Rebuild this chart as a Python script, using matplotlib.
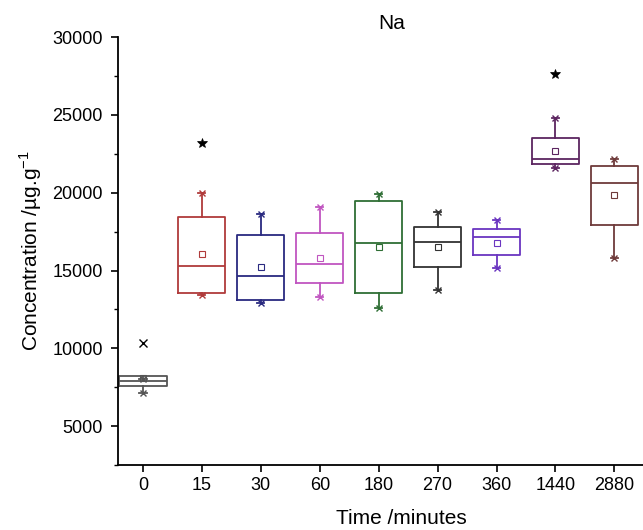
import matplotlib
matplotlib.use("Agg")
import matplotlib.pyplot as plt
from matplotlib.ticker import MultipleLocator

plt.rcParams['font.family'] = ['Liberation Sans', 'DejaVu Sans']

# time points (minutes)
times = ["0", "15", "30", "60", "180", "270", "360", "1440", "2880"]

# box statistics (ug/g)
q1 = [7570, 13530, 13100, 14170, 13530, 15200, 15970, 21840, 17920]
medians = [7890, 15280, 14660, 15390, 16740, 16830, 17130, 22160, 20640]
q3 = [8210, 18450, 17270, 17380, 19460, 17770, 17680, 23490, 21710]
whis_lo = [7150, 13400, 12900, 13270, 12560, 13740, 15140, 21560, 15780]
whis_hi = [8050, 19950, 18600, 19060, 19890, 18770, 18240, 24780, 22140]
means = [8100, 16050, 15220, 15820, 16520, 16500, 16800, 22670, 19850]
outliers = [[10320], [23190], [], [], [], [], [], [27620], []]

colors = ["#555555", "#b03a3a", "#2a2a80", "#c055c0", "#2f6e35",
          "#333333", "#6a35c0", "#5c2560", "#6e3a3a"]

stats = []
for i in range(len(times)):
    stats.append(dict(q1=q1[i], med=medians[i], q3=q3[i], whislo=whis_lo[i],
                      whishi=whis_hi[i], mean=means[i], fliers=[]))

fig = plt.figure(figsize=(6.43, 5.30), dpi=100)
# the original plot is cropped on the right, so the axes run past the edge
ax = fig.add_axes([0.1835, 0.1226, 0.882, 0.8074])

pos = list(range(len(times)))
for i, st in enumerate(stats):
    c = colors[i]
    ax.bxp([st], positions=[pos[i]], widths=0.8, showmeans=True,
           showfliers=False, patch_artist=False,
           boxprops=dict(color=c, linewidth=1.3),
           medianprops=dict(color=c, linewidth=1.3),
           whiskerprops=dict(color=c, linewidth=1.3),
           capprops=dict(color=c, linewidth=1.3),
           capwidths=0.12,
           meanprops=dict(marker="s", markersize=4, markerfacecolor="none",
                          markeredgecolor=c, markeredgewidth=0.8))
    # whisker end markers
    ax.plot([pos[i], pos[i]], [whis_lo[i], whis_hi[i]], linestyle="none",
            marker="x", markersize=4, color=c, markeredgewidth=1.0)

# outliers
for i, vals in enumerate(outliers):
    if not vals:
        continue
    mk = "x" if i == 0 else "*"
    ax.plot([pos[i]] * len(vals), vals, linestyle="none", marker=mk,
            markersize=6 if mk == "x" else 7, color="black",
            markeredgewidth=1.0 if mk == "x" else 0.5)

ax.set_xlim(-0.424, 9.2)
ax.set_ylim(2500, 30000)
ax.set_xticks(pos)
ax.set_xticklabels(times)
ax.yaxis.set_major_locator(MultipleLocator(5000))
ax.yaxis.set_minor_locator(MultipleLocator(2500))

for s in ["top", "right"]:
    ax.spines[s].set_visible(False)
for s in ["left", "bottom"]:
    ax.spines[s].set_linewidth(1.3)

ax.tick_params(axis="both", which="major", direction="out", length=5,
               width=1.2, labelsize=13)
ax.tick_params(axis="y", which="major", pad=6)
ax.tick_params(axis="y", which="minor", direction="out", length=3, width=1.0)

ax.set_xlabel("Time /minutes", fontsize=15, labelpad=11)
ax.set_ylabel("Concentration /µg.g$^{\\mathregular{-1}}$", fontsize=15,
              labelpad=6)
ax.set_title("Na", fontsize=15, pad=6, x=0.483)

fig.savefig("out.png", dpi=100)
